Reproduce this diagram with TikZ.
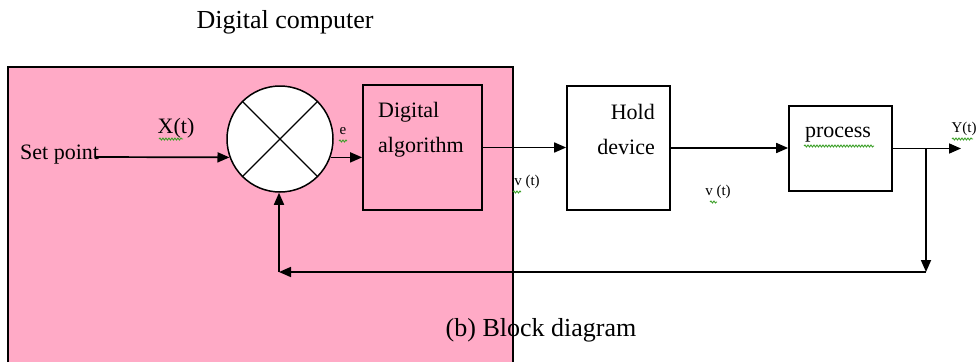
\documentclass[tikz,border=0pt]{standalone}
\usepackage{fontspec}
\setmainfont{Liberation Serif}
\usetikzlibrary{arrows.meta,decorations.pathmorphing}
\definecolor{dcpink}{RGB}{255,170,198}
\definecolor{squig}{RGB}{60,160,40}
\tikzset{
  wire/.style={line width=1.7pt},
  arr/.style={wire, -{Triangle[length=12pt,width=10pt]}},
  blk/.style={draw, line width=1.7pt, inner sep=0pt},
  lbl/.style={font=\fontsize{22}{24}\selectfont, inner sep=0pt},
  big/.style={font=\fontsize{26}{28}\selectfont, inner sep=0pt},
  sml/.style={font=\fontsize{15}{17}\selectfont, inner sep=0pt},
  spell/.style={draw=squig, line width=0.9pt, decorate,
    decoration={snake, amplitude=1pt, segment length=3pt}}
}
\begin{document}
\begin{tikzpicture}[x=1pt, y=-1pt]
\useasboundingbox (0,0) rectangle (980,362);

% computer region
\fill[dcpink] (8,67) rectangle (513,362);
\draw[line width=1.7pt] (8,362) -- (8,67) -- (513,67) -- (513,362);

% blocks
\node[draw, circle, line width=1.5pt, fill=white, minimum size=106pt, inner sep=0pt] (sum) at (280,139) {};
\draw[line width=1.2pt] (sum.135) -- (sum.-45) (sum.45) -- (sum.-135);
\node[blk, minimum width=119pt, minimum height=125pt] (alg) at (422.5,147.5) {};
\node[blk, fill=white, minimum width=103pt, minimum height=124pt] (hold) at (618.5,148) {};
\node[blk, fill=white, minimum width=103pt, minimum height=85pt] (proc) at (840.5,148.5) {};

% block texts
\node[lbl, anchor=west] (algA) at (378,112) {Digital};
\node[lbl, anchor=west] (algB) at (378,147) {algorithm};
\node[lbl, anchor=east] (holdA) at (655,112) {Hold};
\node[lbl, anchor=east] (holdB) at (655,147) {device};
\node[lbl] (proct) at (838,135) {process};

% labels
\node[big] (title) at (285,22) {Digital computer};
\node[big] (caption) at (541,330) {(b) Block diagram};
\node[lbl, anchor=west] (setp) at (20,155) {Set point};
\node[lbl] (xt) at (176,128) {X(t)};
\node[sml] (el) at (343,131) {e};
\node[sml] (v1) at (527,182) {v (t)};
\node[sml] (v2) at (718,192) {v (t)};
\node[sml] (yt) at (964,129) {Y(t)};

% spelling marks under words
\draw[spell] (159,139) -- (183,139);
\draw[spell] (339,141) -- (347,141);
\draw[spell] (804,146) -- (874,146);
\draw[spell] (952,139) -- (973,139);
\draw[spell] (513,192) -- (521,192);
\draw[spell] (710,202) -- (717,202);

% signal path
\coordinate (sp) at (95,157);
\coordinate (br) at (926,148.5);
\coordinate (out) at (961,148.5);
\coordinate (fb) at (926,272);
\coordinate (fbl) at (279,272);

\draw[arr] (sp) -- (sum.200);
\draw[arr] (sum.340) -- (sum.340 -| alg.west);
\draw[arr] (alg.east) -- (alg.east -| hold.west);
\draw[arr] (hold.east) -- (hold.east -| proc.west);
\draw[arr] (proc.east) -- (out);
\draw[arr] (br) -- (fb);
\draw[arr] (fb) -- (fbl);
\draw[arr] (fbl) -- (fbl |- sum.south);
\end{tikzpicture}
\end{document}
